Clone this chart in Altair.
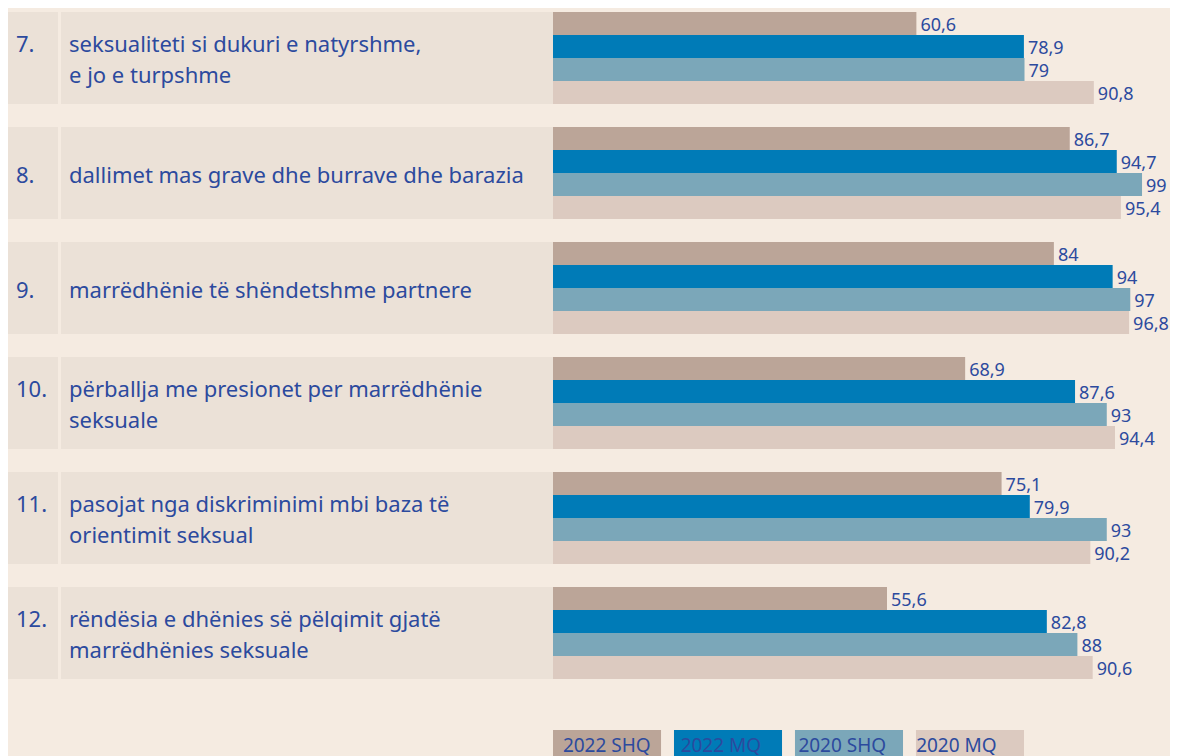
import altair as alt
import pandas as pd

numbers = ["7.", "8.", "9.", "10.", "11.", "12."]
labels = [
    "seksualiteti si dukuri e natyrshme,\ne jo e turpshme",
    "dallimet mas grave dhe burrave dhe barazia",
    "marrëdhënie të shëndetshme partnere",
    "përballja me presionet per marrëdhënie\nseksuale",
    "pasojat nga diskriminimi mbi baza të\norientimit seksual",
    "rëndësia e dhënies së pëlqimit gjatë\nmarrëdhënies seksuale",
]
series = ["2022 SHQ", "2022 MQ", "2020 SHQ", "2020 MQ"]
v_2022_shq = [60.6, 86.7, 84, 68.9, 75.1, 55.6]
v_2022_mq = [78.9, 94.7, 94, 87.6, 79.9, 82.8]
v_2020_shq = [79, 99, 97, 93, 93, 88]
v_2020_mq = [90.8, 95.4, 96.8, 94.4, 90.2, 90.6]
colors = ["#bba598", "#007bb7", "#7ba7b9", "#dccac0"]

TEXT = "#2c4a9e"
BG = "#f5ebe1"
BOX = "#ebe1d7"
FONT = "Noto Sans"

rows = []
for n, l in zip(numbers, labels):
    rows.append({"q": n, "num": n, "label": l, "nlines": l.count("\n") + 1})
tdf = pd.DataFrame(rows)

bars = []
for s, vals in zip(series, [v_2022_shq, v_2022_mq, v_2020_shq, v_2020_mq]):
    for n, v in zip(numbers, vals):
        bars.append({"q": n, "series": s, "value": v,
                     "txt": (f"{v:g}").replace(".", ",")})
bdf = pd.DataFrame(bars)
ldf = pd.DataFrame({"series": series})

H = 744
ROWS_H = 667
yscale = alt.Scale(domain=numbers, range=[0, ROWS_H], paddingInner=0.2, paddingOuter=0)
Y = alt.Y("q:N", scale=yscale, axis=None)

left_base = alt.Chart(tdf).encode(y=Y)
num_box = left_base.mark_rect(color=BOX).encode(x=alt.value(0), x2=alt.value(50))
lab_box = left_base.mark_rect(color=BOX).encode(x=alt.value(53), x2=alt.value(545))
txt_layers = []
for nl, dy in [(1, 3), (2, -13)]:
    b = left_base.transform_filter(alt.datum.nlines == nl)
    txt_layers.append(b.mark_text(align="left", baseline="middle", lineBreak="\n",
                                  lineHeight=31, font=FONT, fontSize=22, color=TEXT,
                                  dy=dy).encode(x=alt.value(8), text="num:N"))
    txt_layers.append(b.mark_text(align="left", baseline="middle", lineBreak="\n",
                                  lineHeight=31, font=FONT, fontSize=22, color=TEXT,
                                  dy=dy).encode(x=alt.value(61), text="label:N"))
left = alt.layer(num_box, lab_box, *txt_layers).properties(width=545, height=H)

X_MIN = -1.24
xscale = alt.Scale(domain=[X_MIN, 103.76], nice=False, zero=False)
color_scale = alt.Scale(domain=series, range=colors)
rbase = alt.Chart(bdf).encode(
    y=Y,
    yOffset=alt.YOffset("series:N", sort=series,
                        scale=alt.Scale(domain=series, paddingInner=0, paddingOuter=0)),
)
bar = rbase.mark_bar(size=23).encode(
    x=alt.X("value:Q", scale=xscale, axis=None),
    x2=alt.datum(X_MIN),
    color=alt.Color("series:N", scale=color_scale, legend=None),
)
vtxt = rbase.mark_text(align="left", baseline="middle", dx=4, dy=2, font=FONT,
                       fontSize=18, color=TEXT).encode(
    x=alt.X("value:Q", scale=xscale, axis=None), text="txt:N")

lscale = alt.Scale(domain=series, range=[0, 471], paddingInner=0.107, paddingOuter=0)
leg_box = alt.Chart(ldf).mark_rect().encode(
    x=alt.X("series:N", sort=series, axis=None, scale=lscale),
    y=alt.value(718), y2=alt.value(H),
    color=alt.Color("series:N", scale=color_scale, legend=None))
leg_txt = alt.Chart(ldf).mark_text(align="left", baseline="alphabetic", dx=-49,
                                   font=FONT, fontSize=19, color=TEXT).encode(
    x=alt.X("series:N", sort=series, axis=None, scale=lscale),
    y=alt.value(740), text="series:N")
right = alt.layer(bar, vtxt, leg_box, leg_txt).resolve_scale(x="independent").properties(width=617, height=H)

chart = alt.hconcat(left, right, spacing=0, bounds="flush").properties(
    padding={"left": 0, "top": 4, "right": 0, "bottom": 0},
    background=BG,
).configure_view(stroke=None)

chart.save("out.html", embed_options={"renderer": "svg", "actions": False})
